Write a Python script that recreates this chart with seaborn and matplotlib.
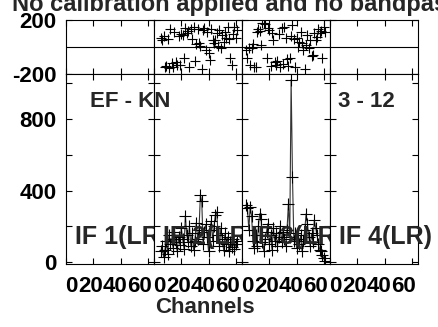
import numpy as np
import pandas as pd
import matplotlib
matplotlib.use('Agg')
import matplotlib.pyplot as plt
import matplotlib.transforms as mtransforms
import seaborn as sns

sns.set_style("ticks")
plt.rcParams['font.family'] = ['Liberation Sans', 'DejaVu Sans']
plt.rcParams['font.weight'] = 'bold'
plt.rcParams['font.size'] = 16
plt.rcParams['axes.unicode_minus'] = False

# Data
title = "No calibration applied and no bandpass applied"
baseline_label = "EF - KN"
time_label = "3 - 12"
if_labels = ['IF 1(LR)', 'IF 2(LR)', 'IF 3(LR)', 'IF 4(LR)']

chan_ticks = [0, 20, 40, 60]
amp_ticks = [0, 200, 400, 600, 800, 1000]
amp_ticklabels = ['0', '', '400', '', '800', '']
phase_ticks = [-200, 200]

if2_first_chan = 5
if2_amp = [60, 90, 30, 70, 120, 45, 150, 100, 130, 80, 170, 110, 60, 140, 95,
           190, 130, 75, 260, 150, 110, 200, 90, 160, 70, 120, 220, 130, 180,
           375, 340, 100, 170, 210, 140, 60, 180, 230, 120, 200, 265, 280, 150,
           90, 190, 130, 70, 160, 100, 140, 60, 110, 85, 130, 75, 100, 120]
if2_phase = [70, 55, 80, -150, -140, 60, -155, 130, -120, -145, 110, -110, -135,
             85, -130, 95, 90, -85, 140, 100, 120, -150, 130, 60, 150, -100, 25,
             135, 30, 5, -160, 125, 140, -20, 110, -45, -95, 130, 55, 30, 50,
             100, 5, 125, -10, 90, 40, 110, 70, 145, 60, -85, -130, 95, 150, 65,
             125]

if3_first_chan = 3
if3_amp = [320, 300, 180, 310, 260, 120, 80, 150, 90, 200, 270, 240, 110, 60,
           130, 170, 215, 100, 150, 70, 190, 120, 160, 90, 140, 200, 110, 170,
           130, 90, 180, 325, 140, 1020, 475, 120, 160, 80, 130, 100, 150, 60,
           120, 180, 270, 210, 140, 90, 160, 110, 235, 190, 150, 100, 70, 60,
           40, 20, 5]
if3_phase = [-20, -80, -10, -130, -5, 20, -145, -150, 110, 130, 120, 15, 175,
             180, 170, -85, 140, 125, -140, 100, 50, -110, -135, -100, 95, -150,
             140, -125, 150, 65, -90, -140, -85, 80, 165, 60, -145, 65, 0, 40,
             110, 30, -20, -160, 15, 90, -5, 55, -70, -60, 100, 55, 75, 130, 105,
             120, -85, 150, 110]


def make_frame(first_chan, amp, phase):
    chans = np.arange(first_chan, first_chan + len(amp))
    return pd.DataFrame({'channel': chans, 'amp': amp, 'phase': phase})


panels = {1: make_frame(if2_first_chan, if2_amp, if2_phase),
          2: make_frame(if3_first_chan, if3_amp, if3_phase)}

W, H = 438, 327
fig, axes = plt.subplots(2, 4, figsize=(W / 100, H / 100), dpi=100, sharex=True,
                         gridspec_kw={'height_ratios': [54, 190],
                                      'hspace': 0, 'wspace': 0})
fig.subplots_adjust(left=66 / W, right=418 / W, top=1 - 20 / H, bottom=1 - 264 / H)

# the channel labels are packed together, shifted left of their ticks
label_shift_px = [5, -3, -5.5, -8]

for i in range(4):
    ax_ph = axes[0, i]
    ax_amp = axes[1, i]

    if i in panels:
        df = panels[i]
        sns.scatterplot(data=df, x='channel', y='phase', ax=ax_ph, marker='+',
                        s=55, color='k', linewidth=0.8, legend=False)
        sns.lineplot(data=df, x='channel', y='amp', ax=ax_amp, color='#333333',
                     lw=0.8, marker='+', markersize=8, markeredgecolor='k',
                     markeredgewidth=0.8, estimator=None, sort=False)

    ax_ph.axhline(0, color='k', lw=0.8)
    ax_ph.set_ylim(-200, 200)
    ax_ph.set_yticks(phase_ticks)
    ax_amp.set_ylim(-11, 1052)
    ax_amp.set_yticks(amp_ticks)
    ax_amp.set_xlim(0, 64.5)
    ax_amp.set_xticks(chan_ticks)

    for ax in (ax_ph, ax_amp):
        ax.set_xlabel('')
        ax.set_ylabel('')
        ax.tick_params(direction='in', length=4, width=0.8, top=True, right=True,
                       bottom=True, left=True, colors='k', labelsize=16, pad=7)
        for sp in ax.spines.values():
            sp.set_color('k')
            sp.set_linewidth(0.8)

    ax_ph.tick_params(labelbottom=False)
    ax_amp.tick_params(axis='x', pad=9)
    if i == 0:
        ax_amp.set_yticklabels(amp_ticklabels)
    else:
        ax_ph.tick_params(labelleft=False)
        ax_amp.tick_params(labelleft=False)

    for lab, dx in zip(ax_amp.get_xticklabels(), label_shift_px):
        off = mtransforms.ScaledTranslation(dx / 100, 0, fig.dpi_scale_trans)
        lab.set_transform(lab.get_transform() + off)

    ax_amp.text(0.5 + 12 / 88, 0.105, if_labels[i], transform=ax_amp.transAxes,
                ha='center', va='baseline', fontsize=18, fontweight='bold')

fig.text(12 / W, 1 - 11 / H, title, ha='left', va='baseline', fontsize=17,
         fontweight='bold')
fig.text(90 / W, 1 - 107 / H, baseline_label, ha='left', va='baseline',
         fontsize=16, fontweight='bold')
fig.text(338 / W, 1 - 107 / H, time_label, ha='left', va='baseline',
         fontsize=16, fontweight='bold')
fig.text(205 / W, 1 - 313 / H, 'Channels', ha='center', va='baseline',
         fontsize=16, fontweight='bold')

plt.savefig('out.png', dpi=100)
plt.close()
